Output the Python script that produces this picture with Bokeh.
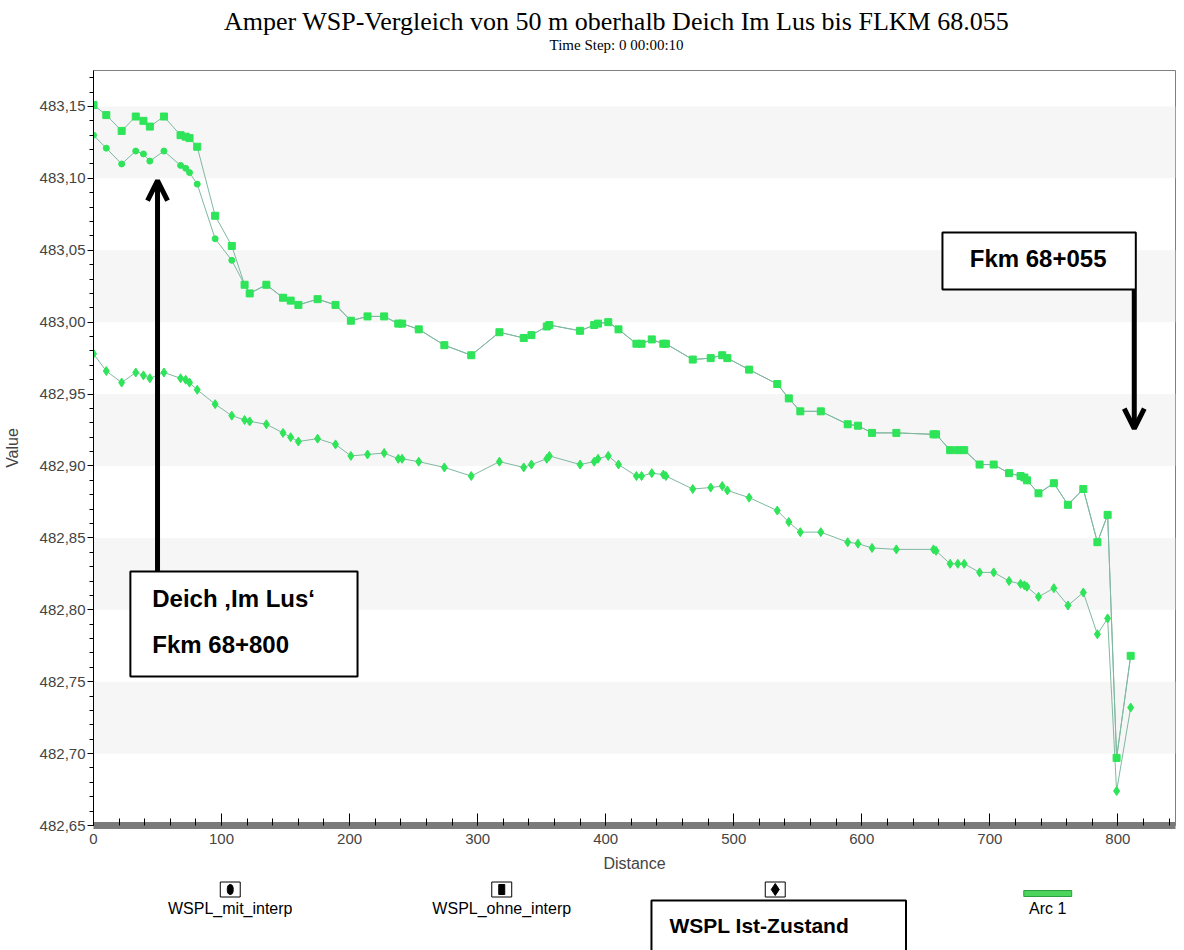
from bokeh.plotting import figure
from bokeh.models import (Range1d, FixedTicker, CustomJSTickFormatter, BoxAnnotation,
                          Label, Arrow, OpenHead)
from bokeh.layouts import column
from bokeh.embed import file_html
from bokeh.resources import INLINE
from bokeh.core.properties import value

# ---------------- data ----------------
distance = [0, 10, 22, 33, 39, 44, 55, 68, 72, 75,
            81, 95, 108, 118, 122, 135, 148, 154, 160, 175,
            189, 201, 214, 227, 238, 241, 254, 274, 295, 317,
            336, 342, 354, 356, 380, 391, 394, 402, 410, 424,
            428, 436, 445, 447, 468, 482, 491, 495, 512, 534,
            543, 552, 568, 589, 597, 608, 627, 656, 658, 669,
            675, 680, 692, 703, 715, 724, 727, 729, 738, 750,
            761, 773, 784, 792, 799, 810]

wspl_ohne_interp = [483.151, 483.144, 483.133, 483.143, 483.140, 483.136, 483.143, 483.130, 483.129, 483.128,
                    483.122, 483.074, 483.053, 483.026, 483.020, 483.026, 483.017, 483.015, 483.012, 483.016,
                    483.012, 483.001, 483.004, 483.004, 482.999, 482.999, 482.995, 482.984, 482.977, 482.993,
                    482.989, 482.991, 482.997, 482.998, 482.994, 482.998, 482.999, 483.000, 482.995, 482.985,
                    482.985, 482.988, 482.985, 482.985, 482.974, 482.975, 482.977, 482.975, 482.967, 482.957,
                    482.947, 482.938, 482.938, 482.929, 482.928, 482.923, 482.923, 482.922, 482.922, 482.911,
                    482.911, 482.911, 482.901, 482.901, 482.895, 482.893, 482.892, 482.890, 482.881, 482.888,
                    482.873, 482.884, 482.847, 482.866, 482.697, 482.768]

wspl_mit_interp = [483.130, 483.121, 483.110, 483.119, 483.117, 483.112, 483.119, 483.109, 483.107, 483.104,
                   483.096, 483.058, 483.043, 483.026, 483.020, 483.026, 483.017, 483.015, 483.012, 483.016,
                   483.012, 483.001, 483.004, 483.004, 482.999, 482.999, 482.995, 482.984, 482.977, 482.993,
                   482.989, 482.991, 482.997, 482.998, 482.994, 482.998, 482.999, 483.000, 482.995, 482.985,
                   482.985, 482.988, 482.985, 482.985, 482.974, 482.975, 482.977, 482.975, 482.967, 482.957,
                   482.947, 482.938, 482.938, 482.929, 482.928, 482.923, 482.923, 482.922, 482.922, 482.911,
                   482.911, 482.911, 482.901, 482.901, 482.895, 482.893, 482.892, 482.890, 482.881, 482.888,
                   482.873, 482.884, 482.847, 482.866, 482.697, 482.768]

wspl_ist_zustand = [482.978, 482.966, 482.958, 482.965, 482.963, 482.961, 482.965, 482.961, 482.960, 482.958,
                    482.953, 482.943, 482.935, 482.932, 482.931, 482.929, 482.923, 482.920, 482.917, 482.919,
                    482.915, 482.907, 482.908, 482.909, 482.905, 482.905, 482.903, 482.899, 482.893, 482.903,
                    482.899, 482.901, 482.905, 482.907, 482.901, 482.903, 482.905, 482.907, 482.901, 482.893,
                    482.893, 482.895, 482.894, 482.893, 482.884, 482.885, 482.886, 482.883, 482.878, 482.869,
                    482.861, 482.854, 482.854, 482.847, 482.846, 482.843, 482.842, 482.842, 482.841, 482.832,
                    482.832, 482.832, 482.826, 482.826, 482.820, 482.818, 482.817, 482.816, 482.809, 482.815,
                    482.803, 482.812, 482.783, 482.794, 482.674, 482.732]

x_ticks = [0, 100, 200, 300, 400, 500, 600, 700, 800]
y_ticks = [482.65, 482.70, 482.75, 482.80, 482.85, 482.90, 482.95, 483.00, 483.05, 483.10, 483.15]
legend_labels = ["WSPL_mit_interp", "WSPL_ohne_interp", "WSPL Ist-Zustand", "Arc 1"]

title_text = "Amper WSP-Vergleich von 50 m oberhalb Deich Im Lus bis FLKM 68.055"
subtitle_text = "Time Step: 0 00:00:10"

MARK = "#2ee458"
LINE = "#7fb8a0"
SANS = "Liberation Sans"
BL, BR = 91, 9   # frame borders shared by the stacked figures

# ---------------- title strip (x in page pixels) ----------------
tf = figure(width=1184, height=66, x_range=Range1d(BL, 1184 - BR), y_range=Range1d(66, 0),
            output_backend="svg", toolbar_location=None, title=None,
            min_border_left=BL, min_border_right=BR, min_border_top=0, min_border_bottom=0,
            x_axis_type=None, y_axis_type=None)
tf.grid.visible = False
tf.outline_line_color = None
tf.text(x=[615], y=[21], text=[title_text], text_align="center", text_baseline="middle",
        text_font=value("Liberation Serif"), text_font_size="26px", text_color="black")
tf.text(x=[615], y=[44], text=[subtitle_text], text_align="center", text_baseline="middle",
        text_font=value("Liberation Serif"), text_font_size="15px", text_color="black")

# ---------------- main plot ----------------
p = figure(width=1184, height=814, x_range=Range1d(0, 845), y_range=Range1d(482.65, 483.175),
           output_backend="svg", toolbar_location=None, title=None,
           min_border_left=BL, min_border_right=BR, min_border_top=4, min_border_bottom=55)
p.background_fill_color = "white"
p.border_fill_color = "white"
p.outline_line_color = "#7f7f7f"

p.xgrid.visible = False
p.ygrid.grid_line_color = None
p.ygrid.band_fill_color = "#f6f6f6"
p.ygrid.band_fill_alpha = 1.0

p.xaxis.ticker = FixedTicker(ticks=x_ticks, minor_ticks=list(range(0, 841, 20)))
p.yaxis.ticker = FixedTicker(ticks=y_ticks,
                             minor_ticks=[round(482.65 + 0.01 * i, 2) for i in range(53)])
p.yaxis.formatter = CustomJSTickFormatter(code="return tick.toFixed(2).replace('.', ',');")

p.xaxis.axis_label = "Distance"
p.yaxis.axis_label = "Value"
for ax in (p.xaxis, p.yaxis):
    ax.axis_label_text_font = SANS
    ax.axis_label_text_font_style = "normal"
    ax.axis_label_text_font_size = "16px"
    ax.major_label_text_font = SANS
    ax.major_label_text_font_size = "15px"
    ax.major_tick_line_color = "black"
    ax.minor_tick_line_color = "black"

p.xaxis.axis_line_color = "#7a7a7a"
p.xaxis.axis_line_width = 7
p.xaxis.major_tick_in = 12
p.xaxis.major_tick_out = 0
p.xaxis.minor_tick_in = 7
p.xaxis.minor_tick_out = 0
p.xaxis.major_label_standoff = 8
p.xaxis.axis_label_standoff = 8

p.yaxis.axis_line_color = "black"
p.yaxis.major_tick_out = 6
p.yaxis.major_tick_in = 0
p.yaxis.minor_tick_out = 4
p.yaxis.minor_tick_in = 0
p.yaxis.major_label_standoff = 2
p.yaxis.axis_label_standoff = 16

# series
p.line(distance, wspl_ist_zustand, line_color=LINE, line_width=1)
p.line(distance, wspl_mit_interp, line_color=LINE, line_width=1)
p.line(distance, wspl_ohne_interp, line_color=LINE, line_width=1)
p.scatter(distance, wspl_ist_zustand, marker="diamond", size=9, fill_color=MARK, line_color=MARK)
p.scatter(distance, wspl_mit_interp, marker="circle", size=6, fill_color=MARK, line_color=MARK)
p.scatter(distance, wspl_ohne_interp, marker="square", size=7, fill_color=MARK, line_color=MARK)

# annotation boxes
for l, r, t, b in [(28.8, 206.2, 482.8266, 482.7536), (663, 814, 483.0624, 483.0227)]:
    p.add_layout(BoxAnnotation(left=l, right=r, top=t, bottom=b,
                               fill_color="white", fill_alpha=1.0,
                               line_color="black", line_alpha=1.0, line_width=2))
p.add_layout(Label(x=45.9, y=482.8079, text="Deich \u201aIm Lus\u2018", text_font=SANS,
                   text_font_style="bold", text_font_size="24px", text_color="black",
                   text_baseline="middle"))
p.add_layout(Label(x=45.9, y=482.7759, text="Fkm 68+800", text_font=SANS,
                   text_font_style="bold", text_font_size="24px", text_color="black",
                   text_baseline="middle"))
p.add_layout(Label(x=737.7, y=483.0445, text="Fkm 68+055", text_font=SANS,
                   text_font_style="bold", text_font_size="24px", text_color="black",
                   text_align="center", text_baseline="middle"))
p.add_layout(Arrow(end=OpenHead(size=20, line_width=5, line_color="black"),
                   x_start=50, y_start=482.8266, x_end=50, y_end=483.0985,
                   line_width=5, line_color="black"))
p.add_layout(Arrow(end=OpenHead(size=20, line_width=5, line_color="black"),
                   x_start=812.8, y_start=483.0227, x_end=812.8, y_end=482.926,
                   line_width=5, line_color="black"))

# ---------------- legend strip (x, y in page pixels) ----------------
lg = figure(width=1184, height=70, x_range=Range1d(BL, 1184 - BR), y_range=Range1d(950, 880),
            output_backend="svg", toolbar_location=None, title=None,
            min_border_left=BL, min_border_right=BR, min_border_top=0, min_border_bottom=0,
            x_axis_type=None, y_axis_type=None)
lg.grid.visible = False
lg.outline_line_color = None
lg.rect(x=[228, 500, 774], y=[889, 889, 889], width=20, height=15,
        fill_color="white", line_color="black", line_width=1)
lg.ellipse(x=[228], y=[889], width=6, height=10, fill_color="black", line_color="black")
lg.rect(x=[500], y=[889], width=6, height=10, fill_color="black", line_color="black")
lg.scatter(x=[774], y=[889], marker="diamond", size=12, fill_color="black", line_color="black")
lg.rect(x=[1047], y=[893], width=48, height=6, fill_color="#4cd45c", line_color="#2f9e40")
lg.text(x=[228, 500, 1047], y=[908, 908, 908],
        text=[legend_labels[0], legend_labels[1], legend_labels[3]],
        text_align="center", text_baseline="middle",
        text_font=value(SANS), text_font_size="16px", text_color="black")
lg.quad(left=[650], right=[905], top=[900], bottom=[962],
        fill_color="white", line_color="black", line_width=2)
lg.text(x=[668], y=[925], text=[legend_labels[2]], text_align="left", text_baseline="middle",
        text_font=value(SANS), text_font_style="bold", text_font_size="21px", text_color="black")

layout = column(tf, p, lg, spacing=0)
open("out.html", "w").write(file_html(layout, INLINE))
